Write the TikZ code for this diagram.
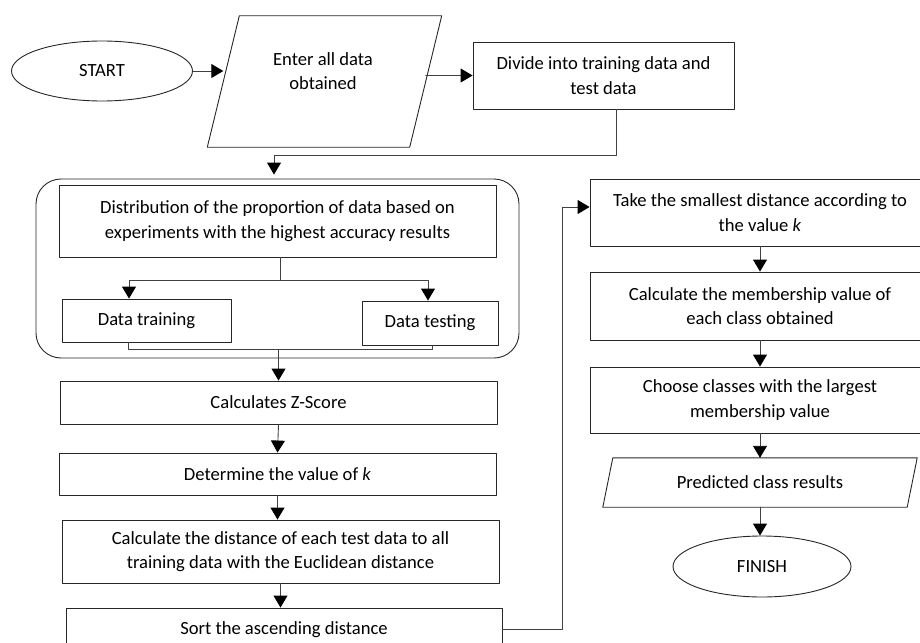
\documentclass[tikz,border=0pt]{standalone}
\usepackage{fontspec}
\setmainfont{Carlito}
\usetikzlibrary{arrows.meta,shapes.geometric}

\begin{document}
\begin{tikzpicture}[x=1pt,y=-1pt,line cap=round,line join=round,
		font=\fontsize{18.6}{24.5}\selectfont,
		box/.style={draw=black!85,line width=0.9pt,rectangle,align=center,inner sep=0pt},
		term/.style={draw=black!85,line width=0.9pt,ellipse,inner sep=0pt},
		io/.style={rectangle,align=center,inner sep=0pt},
		iosides/.style={draw=black!85,line width=0.9pt},
		txt/.style={align=center,inner sep=0pt},
		link/.style={draw=black!75,line width=0.9pt},
		flow/.style={draw=black!75,line width=0.9pt,-{Triangle[length=12pt,width=14pt,color=black]}}]
		\useasboundingbox (0,0) rectangle (920,642);
		\clip (0,0) rectangle (920,642);
		\node[term,minimum width=181,minimum height=60] (start) at (102,71) {START};
		\node[io,minimum width=202,minimum height=131] (enter) at (324.5,81.5) {};
		\draw[iosides] ([xshift=16pt]enter.north west) -- ([xshift=16pt]enter.north east) -- ([xshift=-16pt]enter.south east) -- ([xshift=-16pt]enter.south west) -- cycle;
		\node[txt] (entertxt) at (323,71) {Enter all data\\obtained};
		\node[box,minimum width=261,minimum height=67] (divide) at (603.5,75.5) {Divide into training data and\\test data};
		\node[draw=black!85,line width=0.9pt,rounded corners=25pt,minimum width=483,minimum height=179,inner sep=0pt] (grp) at (277.5,268.5) {};
		\node[box,minimum width=437,minimum height=72] (dist) at (277.5,221) {Distribution of the proportion of data based on\\experiments with the highest accuracy results};
		\node[box,minimum width=169,minimum height=43] (train) at (146.5,320.5) {Data training};
		\node[box,minimum width=136,minimum height=44] (test) at (430,323) {Data testing};
		\node[box,minimum width=437,minimum height=43] (zscore) at (278.5,402.5) {Calculates Z-Score};
		\node[box,minimum width=437,minimum height=42] (determine) at (277.5,474) {Determine the value of \textit{k}};
		\node[box,minimum width=437,minimum height=63] (calc) at (280.5,551.5) {Calculate the distance of each test data to all\\training data with the Euclidean distance};
		\node[box,minimum width=436,minimum height=43] (sort) at (284,629.5) {Sort the ascending distance};
		\node[box,minimum width=340,minimum height=67] (take) at (760,212.5) {Take the smallest distance according to\\the value \textit{k}};
		\node[box,minimum width=340,minimum height=68] (member) at (760,306) {Calculate the membership value of\\each class obtained};
		\node[box,minimum width=340,minimum height=66] (choose) at (760,400) {Choose classes with the largest\\membership value};
		\node[io,minimum width=304,minimum height=49] (pred) at (760,482.5) {Predicted class results};
		\draw[iosides] ([xshift=5pt]pred.north west) -- ([xshift=5pt]pred.north east) -- ([xshift=-5pt]pred.south east) -- ([xshift=-5pt]pred.south west) -- cycle;
		\node[term,minimum width=178,minimum height=61] (finish) at (762,566.5) {FINISH};
		\draw[flow] (start.east) -- (start.east -| enter.west);
		\draw[flow] (divide.west -| enter.east) -- (divide.west);
		\draw[flow] ([xshift=13pt]divide.south) -- ++(0,46) -| ([xshift=-3.5pt,yshift=4pt]grp.north);
		\draw[link] ([xshift=2.5pt]dist.south) -- ++(0,23) coordinate (fork);
		\draw[flow] (fork) -| ([xshift=-17.5pt]train.north);
		\draw[flow] (fork) -| ([xshift=-2pt]test.north);
		\draw[link] ([xshift=-18.5pt]train.south) -- ++(0,7) coordinate (merge) -| ([xshift=2pt]test.south);
		\draw[flow] (merge -| zscore.north) -- (zscore.north);
		\draw[flow] (zscore.south) -- (determine.north);
		\draw[flow] (determine.south) -- (determine.south |- calc.north);
		\draw[flow] (calc.south) -- (calc.south |- sort.north);
		\draw[flow] (sort.east) -- ++(60,0) |- ([yshift=5.5pt]take.west);
		\draw[flow] (take.south) -- (member.north);
		\draw[flow] (member.south) -- (choose.north);
		\draw[flow] (choose.south) -- (pred.north);
		\draw[flow] (pred.south) -- (pred.south |- finish.north);
	\end{tikzpicture}
\end{document}
